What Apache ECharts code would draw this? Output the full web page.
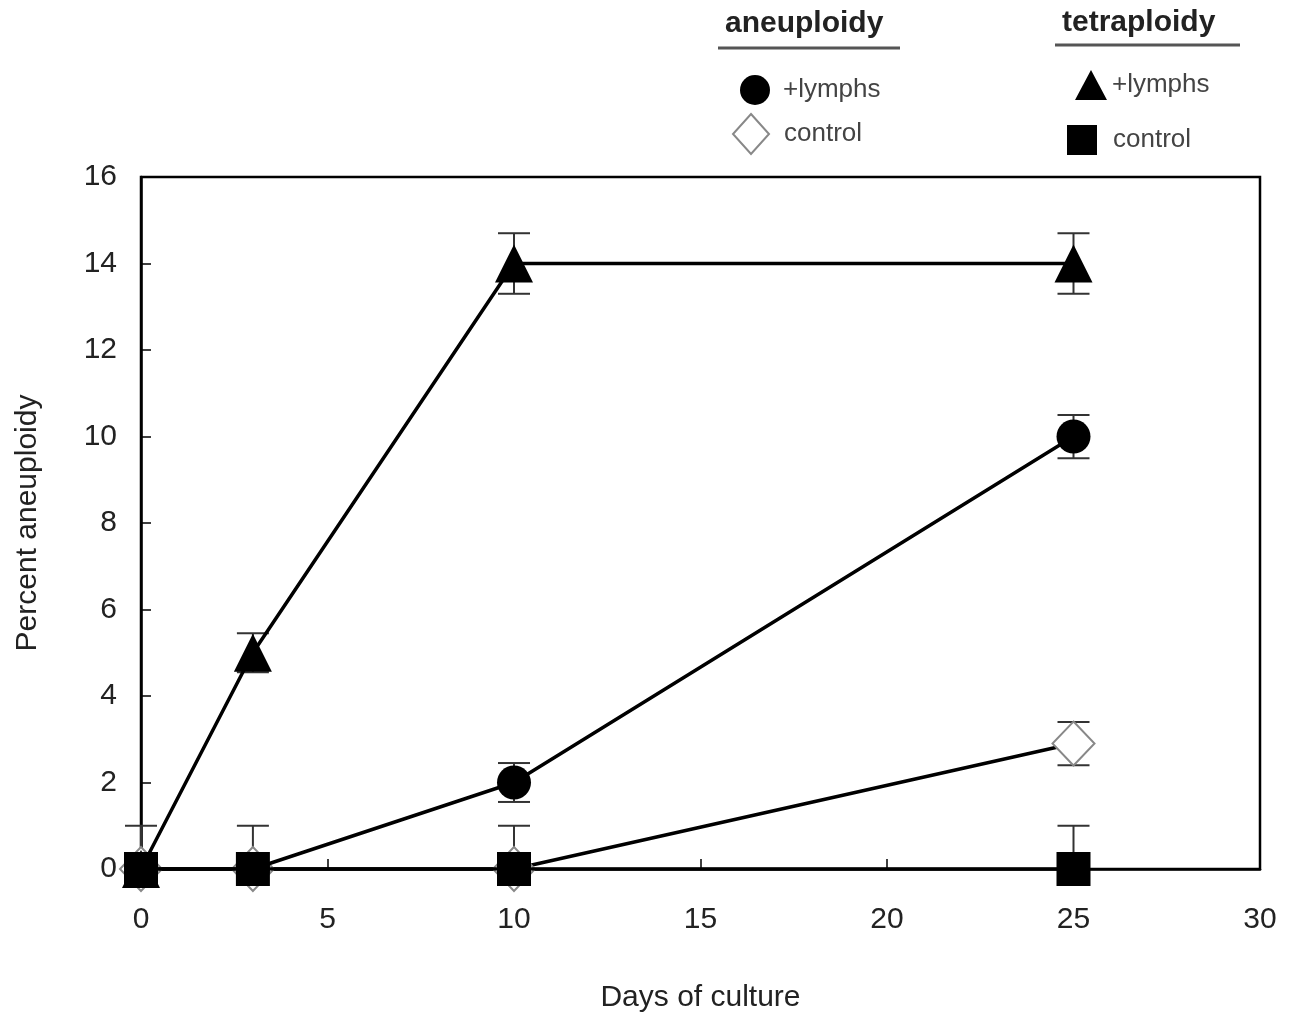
<!DOCTYPE html>
<html><head><meta charset="utf-8">
<script src="https://cdn.jsdelivr.net/npm/echarts@6/dist/echarts.min.js"></script>
<style>html,body{margin:0;padding:0;background:#fff}#c{width:1300px;height:1013px}</style>
</head><body><div id="c"></div>
<script>
const days = [0, 3, 10, 25];
const aneuLymphs = [0, 0, 2, 10];
const aneuLymphsErr = [0, 0, 0.45, 0.5];
const aneuControl = [0, 0, 0, 2.9];
const aneuControlErr = [0, 0, 0, 0.5];
const tetraLymphs = [0, 5, 14, 14];
const tetraLymphsErr = [0, 0.45, 0.7, 0.7];
const tetraControl = [0, 0, 0, 0];
const tetraControlErr = [1, 1, 1, 1];
const xTicks = [0, 5, 10, 15, 20, 25, 30];
const yTicks = [0, 2, 4, 6, 8, 10, 12, 14, 16];

const FONT = 'Liberation Sans, Arial, sans-serif';
function pairs(vals){ return days.map((d,i)=>[d, vals[i]]); }
function errData(vals, errs){ return days.map((d,i)=>[d, vals[i]-errs[i], vals[i]+errs[i]]).filter((r,i)=>errs[i]>0); }

function errSeries(vals, errs){
  return {
    type: 'custom', z: 1, silent: true,
    data: errData(vals, errs),
    renderItem: function(params, api){
      const x = api.value(0);
      const lo = Math.max(0, api.value(1));
      const hi = api.value(2);
      const pLo = api.coord([x, lo]);
      const pHi = api.coord([x, hi]);
      const w = 16;
      const st = {stroke: '#333', lineWidth: 2};
      const children = [
        {type:'line', shape:{x1:pHi[0], y1:pHi[1], x2:pLo[0], y2:pLo[1]}, style: st},
        {type:'line', shape:{x1:pHi[0]-w, y1:pHi[1], x2:pHi[0]+w, y2:pHi[1]}, style: st}
      ];
      if (api.value(1) > 0) children.push({type:'line', shape:{x1:pLo[0]-w, y1:pLo[1], x2:pLo[0]+w, y2:pLo[1]}, style: st});
      return {type:'group', children: children};
    }
  };
}

function lineSeries(name, vals, symbol, size, itemStyle, z){
  return {
    name: name, type: 'line', data: pairs(vals), symbol: symbol, symbolSize: size,
    showAllSymbol: true, z: z,
    lineStyle: {color: '#000', width: 3.5},
    itemStyle: itemStyle,
    emphasis: {disabled: true}
  };
}

function legendItem(name, icon, left, top, w, h, pad){
  return {
    data: [{name: name, icon: icon}],
    orient: 'vertical', left: left, top: top, itemWidth: w, itemHeight: h,
    selectedMode: false,
    formatter: n => n.split(' ')[1],
    textStyle: {fontFamily: FONT, fontSize: 26, color: '#444', padding: [0,0,0,pad]}
  };
}

const chart = echarts.init(document.getElementById('c'));
chart.setOption({
  animation: false,
  grid: {left: 141, right: 40, top: 177, bottom: 144, show: true, borderColor: '#000', borderWidth: 2.5,
         containLabel: false, outerBoundsMode: 'none'},
  xAxis: {
    type: 'value', min: 0, max: 30, interval: 5,
    name: 'Days of culture', nameLocation: 'middle', nameGap: 114,
    nameTextStyle: {fontFamily: FONT, fontSize: 30, color: '#222'},
    axisLine: {show: true, lineStyle: {color: '#000', width: 2.5}},
    axisTick: {show: true, inside: true, length: 10, lineStyle: {color: '#000', width: 1.5}},
    axisLabel: {fontFamily: FONT, fontSize: 30, color: '#222', margin: 36,
      formatter: v => xTicks.includes(v) ? String(v) : ''},
    splitLine: {show: false}
  },
  yAxis: {
    type: 'value', min: 0, max: 16, interval: 2,
    name: 'Percent aneuploidy', nameLocation: 'middle', nameGap: 98,
    nameTextStyle: {fontFamily: FONT, fontSize: 30, color: '#222'},
    axisLine: {show: true, lineStyle: {color: '#000', width: 2.5}},
    axisTick: {show: true, inside: true, length: 10, lineStyle: {color: '#000', width: 1.5}},
    axisLabel: {fontFamily: FONT, fontSize: 30, color: '#222', margin: 24,
      formatter: v => yTicks.includes(v) ? String(v) : ''},
    splitLine: {show: false}
  },
  legend: [
    legendItem('aneuploidy +lymphs', 'circle', 735, 70, 30, 30, 8),
    legendItem('aneuploidy control', 'diamond', 727, 108, 36, 40, 10),
    legendItem('tetraploidy +lymphs', 'triangle', 1070, 65, 32, 30, 0),
    legendItem('tetraploidy control', 'rect', 1062, 120, 30, 30, 11)
  ],
  graphic: [
    {type: 'text', left: 725, top: 9, style: {text: 'aneuploidy', font: 'bold 30px ' + FONT, fill: '#222'}},
    {type: 'line', shape: {x1: 718, y1: 48, x2: 900, y2: 48}, style: {stroke: '#555', lineWidth: 3}},
    {type: 'text', left: 1062, top: 8, style: {text: 'tetraploidy', font: 'bold 30px ' + FONT, fill: '#222'}},
    {type: 'line', shape: {x1: 1055, y1: 45, x2: 1240, y2: 45}, style: {stroke: '#555', lineWidth: 3}}
  ],
  series: [
    errSeries(aneuControl, aneuControlErr),
    errSeries(aneuLymphs, aneuLymphsErr),
    errSeries(tetraLymphs, tetraLymphsErr),
    errSeries(tetraControl, tetraControlErr),
    lineSeries('aneuploidy control', aneuControl, 'diamond', [42, 44], {color: '#fff', borderColor: '#888', borderWidth: 2}, 3),
    lineSeries('aneuploidy +lymphs', aneuLymphs, 'circle', 34, {color: '#000'}, 4),
    lineSeries('tetraploidy +lymphs', tetraLymphs, 'triangle', 38, {color: '#000'}, 5),
    lineSeries('tetraploidy control', tetraControl, 'rect', 34, {color: '#000'}, 6)
  ]
});
</script></body></html>
